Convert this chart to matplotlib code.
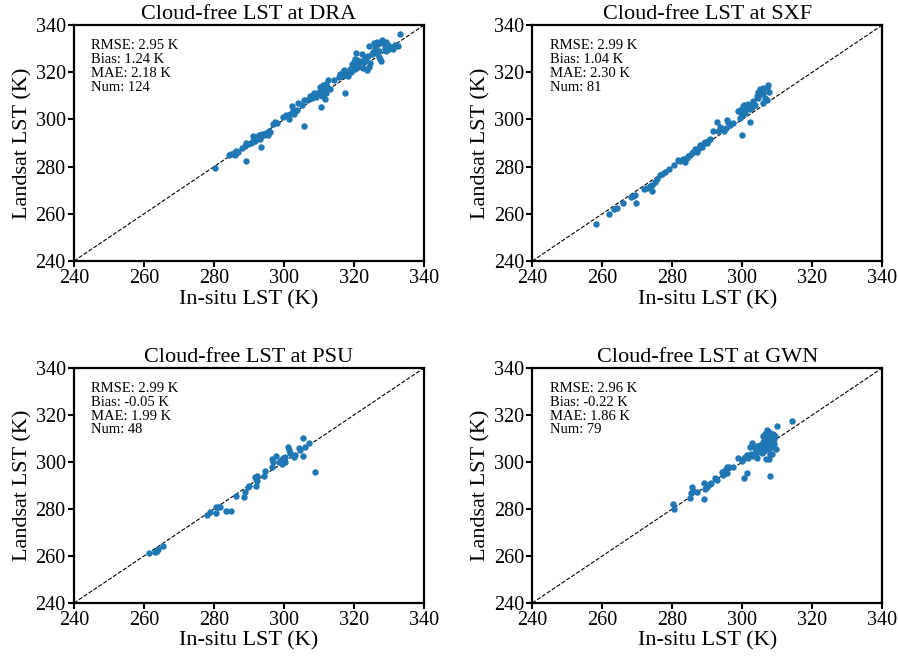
import matplotlib
matplotlib.use("Agg")
import matplotlib.pyplot as plt

plt.rcParams['font.family'] = ['Liberation Serif', 'DejaVu Serif']

sites = ["DRA", "SXF", "PSU", "GWN"]
stats = {
    "DRA": ["2.95", "1.24", "2.18", "124"],
    "SXF": ["2.99", "1.04", "2.30", "81"],
    "PSU": ["2.99", "-0.05", "1.99", "48"],
    "GWN": ["2.96", "-0.22", "1.86", "79"],
}
ticks = [240, 260, 280, 300, 320, 340]

# (in-situ, landsat)
dra_pts = [
    (280.2, 279.5), (284.4, 284.9), (284.9, 285.2), (285.7, 285.6), (286.0, 285.0),
    (286.3, 286.7), (286.8, 286.4), (287.9, 287.7), (288.9, 288.7), (289.0, 282.4),
    (289.1, 289.9), (289.8, 289.6), (290.5, 290.1), (291.2, 293.0), (291.5, 292.0),
    (292.0, 291.5), (292.4, 292.6), (292.8, 293.3), (293.2, 292.4), (293.4, 288.5),
    (293.6, 293.8), (294.2, 293.2), (294.8, 294.2), (295.3, 293.5), (295.6, 295.0),
    (296.0, 294.6), (296.9, 298.0), (297.4, 298.7), (297.9, 298.3), (300.6, 301.7),
    (301.5, 300.2), (301.8, 302.3), (302.2, 305.6), (302.7, 304.0), (302.8, 302.2),
    (303.6, 304.2), (304.1, 306.8), (305.0, 306.0), (305.7, 297.2), (305.8, 308.2),
    (307.4, 310.0), (307.8, 309.6), (308.2, 310.4), (308.6, 311.0), (309.0, 309.5),
    (309.4, 310.2), (309.9, 311.8), (310.2, 313.6), (310.5, 312.6), (310.6, 305.4),
    (310.9, 311.3), (311.3, 314.0), (311.6, 312.3), (311.8, 308.6), (312.0, 315.0),
    (312.3, 313.8), (312.7, 316.8), (313.1, 313.0), (314.3, 316.7), (316.0, 319.3),
    (316.4, 318.6), (316.8, 320.1), (317.2, 318.8), (317.4, 311.3), (317.8, 319.6),
    (318.3, 318.2), (318.8, 321.3), (319.3, 323.6), (319.6, 322.8), (320.0, 324.4),
    (320.3, 321.2), (320.6, 328.0), (320.8, 325.0), (321.1, 322.4), (321.5, 323.8),
    (321.9, 324.6), (322.2, 327.6), (322.6, 321.8), (323.0, 326.4), (323.4, 325.6),
    (323.6, 321.0), (324.0, 326.8), (324.4, 331.2), (324.7, 324.0), (325.1, 327.8),
    (325.5, 328.6), (325.8, 332.4), (326.2, 328.2), (326.5, 332.6), (326.9, 331.8),
    (327.2, 329.0), (327.4, 325.6), (327.7, 324.8), (328.0, 333.8), (328.4, 332.2),
    (328.8, 330.4), (329.2, 333.0), (329.6, 331.6), (330.0, 329.8), (330.5, 330.6),
    (331.0, 330.0), (332.7, 331.1), (333.1, 336.2), (290.8, 290.4), (291.8, 291.0),
    (293.0, 291.8), (299.8, 301.2), (303.0, 303.4), (306.5, 308.4), (308.0, 309.0),
    (309.6, 311.0), (310.8, 309.8), (311.0, 314.6), (312.0, 311.2), (315.6, 317.8),
    (317.0, 321.0), (319.0, 320.2), (320.4, 325.8), (322.8, 324.2), (324.2, 322.4),
    (326.0, 330.2), (327.0, 326.6), (329.0, 329.0), (331.6, 331.6),
]

sxf_pts = [
    (258.2, 255.9), (261.8, 260.1), (263.4, 262.0), (264.1, 262.6), (266.0, 264.4),
    (269.6, 264.4), (268.1, 267.2), (268.9, 267.7), (269.3, 268.1), (271.9, 270.4),
    (272.7, 271.1), (273.6, 271.8), (274.3, 269.8), (274.1, 272.2), (275.0, 273.3),
    (275.5, 274.8), (276.5, 276.5), (277.0, 276.9), (277.9, 277.9), (279.1, 279.1),
    (280.5, 280.6), (281.7, 282.8), (282.2, 282.4), (283.1, 283.1), (283.6, 282.1),
    (284.1, 283.5), (285.0, 285.0), (285.5, 285.7), (286.0, 286.4), (286.5, 287.4),
    (287.0, 286.4), (287.7, 287.8), (288.4, 288.2), (289.0, 289.9), (289.3, 290.6),
    (289.8, 290.2), (290.8, 291.8), (291.7, 294.9), (292.9, 298.7), (293.1, 295.3),
    (294.1, 296.0), (294.8, 295.3), (295.5, 299.9), (296.0, 299.1), (296.5, 297.7),
    (295.3, 296.3), (298.9, 303.4), (299.3, 304.1), (299.8, 302.0), (300.1, 305.5),
    (300.5, 306.2), (300.8, 304.1), (301.2, 304.8), (301.7, 306.7), (302.2, 304.4),
    (299.3, 300.6), (299.8, 293.5), (302.2, 299.0), (303.6, 306.2), (304.1, 310.1),
    (304.6, 309.1), (305.0, 310.9), (305.2, 312.9), (305.8, 307.0), (306.5, 309.1),
    (307.0, 313.3), (307.4, 314.8), (307.7, 311.5), (305.9, 311.2), (307.0, 308.4),
    (284.6, 284.4), (288.0, 289.0), (290.3, 291.0), (293.6, 297.0), (297.4, 298.4),
    (299.6, 303.0), (300.9, 302.6), (302.8, 305.4), (303.2, 307.6), (304.5, 311.6),
    (306.0, 313.4),
]

psu_pts = [
    (261.5, 261.4), (263.1, 261.9), (263.6, 262.3), (264.1, 262.8), (265.3, 264.3),
    (278.1, 277.5), (278.9, 278.9), (280.6, 278.4), (280.6, 281.0), (281.2, 280.7),
    (281.7, 281.0), (283.4, 279.1), (284.9, 279.1), (286.3, 285.5), (288.7, 285.0),
    (288.9, 287.4), (289.8, 289.5), (290.1, 289.8), (291.7, 293.5), (292.0, 292.6),
    (292.2, 294.0), (292.2, 291.9), (292.0, 289.9), (294.3, 294.0), (294.6, 296.3),
    (296.5, 301.1), (296.8, 300.1), (296.7, 297.7), (297.6, 302.7), (298.7, 300.0),
    (299.3, 299.0), (299.6, 301.6), (300.3, 302.0), (300.3, 300.1), (301.0, 306.5),
    (301.4, 305.1), (301.7, 303.7), (302.2, 303.0), (302.9, 302.0), (303.1, 303.1),
    (304.3, 306.1), (304.6, 305.1), (305.5, 302.6), (305.3, 310.4), (306.0, 306.5),
    (307.0, 308.2), (308.9, 295.7), (299.0, 301.0),
]

gwn_pts = [
    (280.3, 282.0), (280.5, 280.0), (285.1, 284.5), (285.3, 286.7), (285.5, 289.2),
    (286.0, 287.8), (287.2, 287.4), (289.1, 284.2), (289.1, 290.9), (289.3, 288.4),
    (289.8, 289.5), (290.3, 290.2), (290.8, 290.6), (291.0, 291.2), (292.2, 293.3),
    (292.7, 292.3), (294.1, 295.9), (294.6, 294.5), (295.1, 296.6), (295.7, 297.7),
    (295.7, 295.5), (296.3, 298.0), (297.3, 298.0), (298.9, 301.6), (299.8, 300.6),
    (300.3, 301.4), (300.5, 293.0), (300.8, 302.3), (301.3, 295.5), (301.3, 303.0),
    (301.7, 301.6), (302.2, 306.2), (302.4, 303.4), (302.7, 308.2), (303.6, 305.8),
    (303.6, 304.0), (304.1, 306.8), (304.3, 301.6), (304.6, 304.8), (305.1, 305.4),
    (305.5, 304.0), (305.8, 311.1), (306.2, 310.5), (306.5, 309.4), (306.8, 312.2),
    (306.8, 301.1), (307.2, 313.6), (307.5, 308.0), (307.5, 301.1), (307.7, 310.1),
    (307.9, 306.5), (307.9, 294.2), (307.9, 303.4), (308.4, 311.5), (308.6, 303.4),
    (308.2, 307.2), (308.9, 308.7), (309.1, 309.6), (310.0, 315.3), (314.1, 317.6),
    (303.0, 302.6), (304.0, 303.2), (305.0, 307.4), (305.6, 306.6), (306.0, 308.4),
    (306.4, 307.0), (306.6, 311.8), (307.0, 309.8), (307.3, 305.6), (307.6, 312.6),
    (308.0, 310.8), (308.2, 309.0), (308.5, 306.2), (308.8, 312.0), (309.2, 307.6),
    (309.4, 311.0), (309.6, 305.4), (306.2, 304.6), (302.0, 302.8),
]

data = {"DRA": dra_pts, "SXF": sxf_pts, "PSU": psu_pts, "GWN": gwn_pts}

fig = plt.figure(figsize=(8.98, 6.57), dpi=100)
# axes boxes in figure fractions (left, bottom, width, height)
boxes = [
    (0.0824, 0.6027, 0.3898, 0.3592),
    (0.5927, 0.6027, 0.3898, 0.3592),
    (0.0824, 0.0822, 0.3898, 0.3577),
    (0.5927, 0.0822, 0.3898, 0.3577),
]

for site, box in zip(sites, boxes):
    ax = fig.add_axes(box)
    pts = data[site]
    xs = [p[0] for p in pts]
    ys = [p[1] for p in pts]
    ax.plot([240, 340], [240, 340], color='black', linestyle='--', linewidth=0.8, zorder=1)
    ax.scatter(xs, ys, s=13, color='#1f77b4', zorder=2)
    ax.set_xlim(240, 340)
    ax.set_ylim(240, 340)
    ax.set_xticks(ticks)
    ax.set_yticks(ticks)
    ax.tick_params(labelsize=14.5, width=1.5, length=4, pad=2)
    for sp in ax.spines.values():
        sp.set_linewidth(1.6)
    ax.set_title(f"Cloud-free LST at {site}", fontsize=16, pad=4)
    ax.set_xlabel("In-situ LST (K)", fontsize=16, labelpad=1)
    ax.set_ylabel("Landsat LST (K)", fontsize=16, labelpad=2)
    r, b, m, n = stats[site]
    ax.text(0.05, 0.94, f"RMSE: {r} K\nBias: {b} K\nMAE: {m} K\nNum: {n}",
            transform=ax.transAxes, fontsize=10.5, va='top', ha='left', linespacing=1.08)

plt.savefig("out.png", dpi=100)
